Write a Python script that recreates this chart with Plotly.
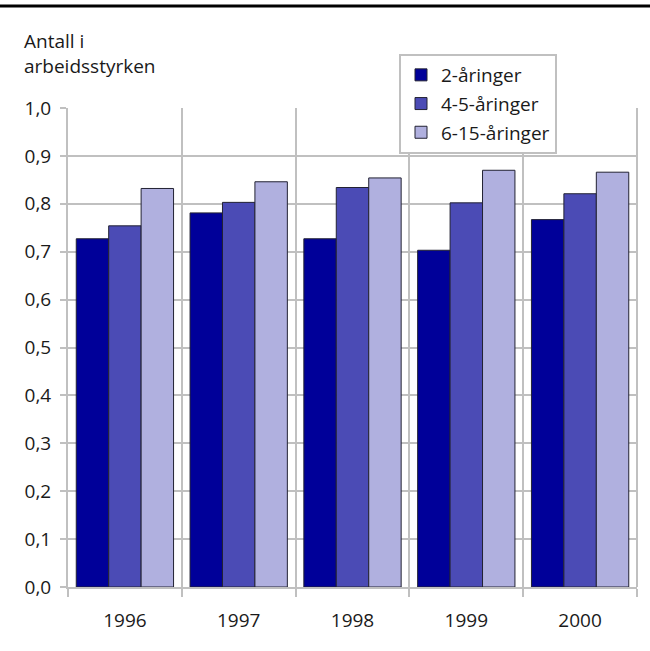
import plotly.graph_objects as go

years = ["1996", "1997", "1998", "1999", "2000"]
series_names = ["2-åringer", "4-5-åringer", "6-15-åringer"]
two_year = [0.727, 0.781, 0.727, 0.703, 0.767]
four_five = [0.754, 0.803, 0.834, 0.802, 0.821]
six_fifteen = [0.832, 0.846, 0.854, 0.870, 0.866]
y_ticks = [0.0, 0.1, 0.2, 0.3, 0.4, 0.5, 0.6, 0.7, 0.8, 0.9, 1.0]

colors = ["#000099", "#4b4bb5", "#b0b0df"]
FONT = "Open Sans"
FS = 19

W, H = 650, 651
ML, MR, MT, MB = 68, 13, 108, 64
pw = W - ML - MR
ph = H - MT - MB

fig = go.Figure()
for i, (name, vals) in enumerate(zip(series_names, [two_year, four_five, six_fifteen])):
    fig.add_trace(go.Bar(
        x=years, y=vals, name=name, legendgroup=name,
        marker=dict(color=colors[i], line=dict(color="#222233", width=1)),
    ))

fig.update_layout(
    width=W, height=H,
    margin=dict(l=ML, r=MR, t=MT, b=MB, pad=0),
    paper_bgcolor="white", plot_bgcolor="white",
    separators=", ",
    barmode="group", bargap=0.145, bargroupgap=0,
    font=dict(family=FONT, size=FS, color="#1a1a1a"),
    showlegend=True,
    legend=dict(
        x=(399 - ML) / pw, y=(587 - 54) / ph, xanchor="left", yanchor="top",
        bgcolor="white", bordercolor="#c0c0c0", borderwidth=2,
        font=dict(family=FONT, size=FS, color="#1a1a1a"),
        traceorder="grouped", tracegroupgap=1,
    ),
    xaxis=dict(
        type="category", tickson="boundaries",
        showgrid=True, gridcolor="#c0c0c0", gridwidth=2,
        showline=True, linecolor="#c0c0c0", linewidth=2,
        ticks="outside", ticklen=8, tickcolor="#c0c0c0", tickwidth=2,
        tickfont=dict(family=FONT, size=FS), ticklabelstandoff=15,
    ),
    yaxis=dict(
        range=[0, 1.0], tickvals=y_ticks, tickformat=".1f",
        showgrid=True, gridcolor="#c0c0c0", gridwidth=2,
        showline=True, linecolor="#c0c0c0", linewidth=2,
        ticks="outside", ticklen=6, tickcolor="#c0c0c0", tickwidth=2,
        tickfont=dict(family=FONT, size=FS), zeroline=False,
        ticklabelstandoff=5,
    ),
)

# Right border of the plot area
fig.add_shape(type="line", xref="paper", yref="paper", x0=1, x1=1, y0=0, y1=1,
              line=dict(color="#c0c0c0", width=2))

# Heavy rule across the top of the figure
fig.add_shape(type="line", xref="paper", yref="paper",
              x0=-ML / pw, x1=(W - ML) / pw,
              y0=(587 - 6) / ph, y1=(587 - 6) / ph,
              line=dict(color="black", width=3))

# Axis title in two lines above the y axis
for text, ypix in [("Antall i", 41), ("arbeidsstyrken", 66)]:
    fig.add_annotation(text=text, xref="paper", yref="paper",
                       x=(22 - ML) / pw, y=(587 - ypix) / ph,
                       xanchor="left", yanchor="middle", showarrow=False,
                       font=dict(family=FONT, size=FS, color="#1a1a1a"))

fig.write_html("out.html")
